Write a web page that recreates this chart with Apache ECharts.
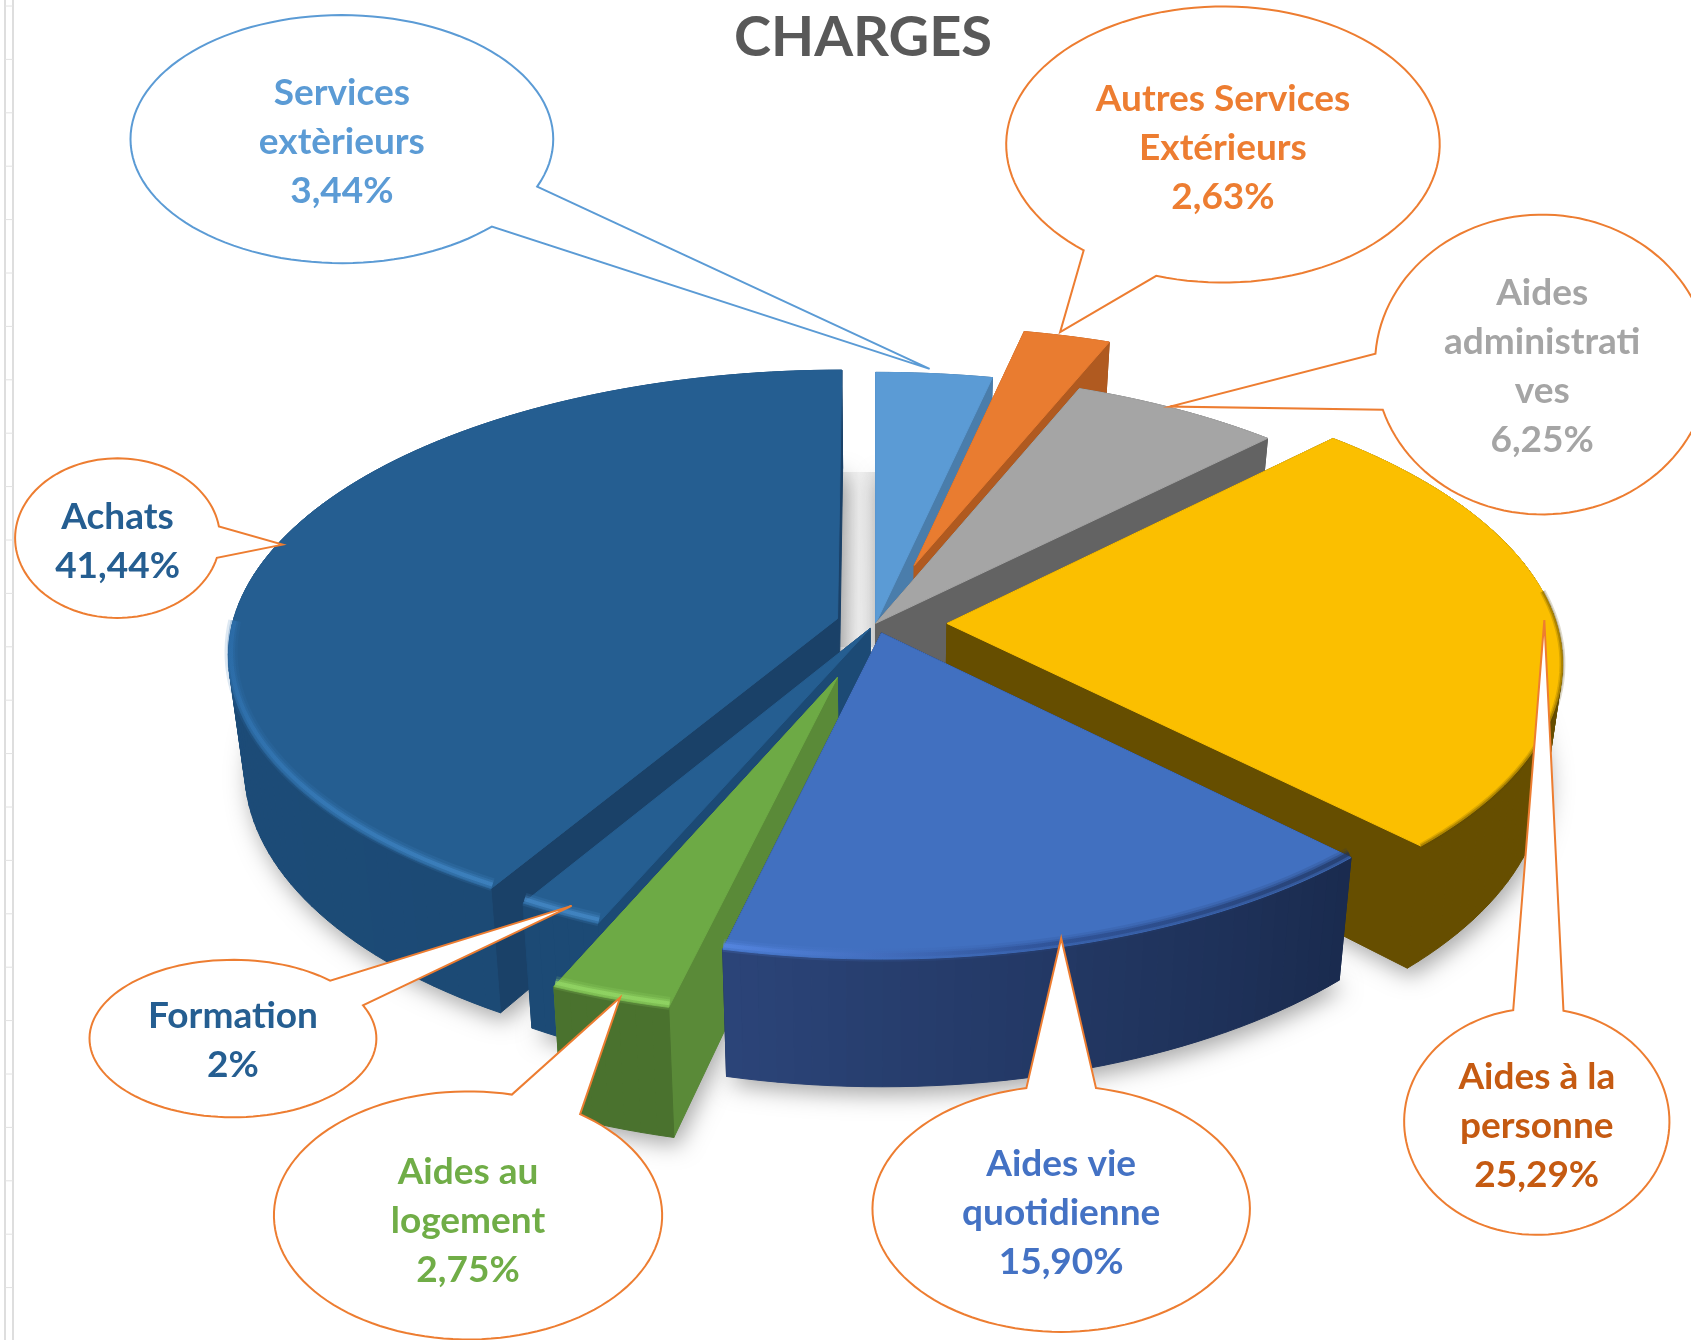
<!DOCTYPE html>
<html><head><meta charset="utf-8">
<style>html,body{margin:0;padding:0;background:#fff}#c{width:1691px;height:1340px}</style>
<script src="https://cdn.jsdelivr.net/npm/echarts@6/dist/echarts.min.js"></script>
</head><body><div id="c"></div>
<script>
// ---------- data ----------
const categories = ['Services extèrieurs','Autres Services Extérieurs','Aides administratives','Aides à la personne','Aides vie quotidienne','Aides au logement','Formation','Achats'];
const values = [3.44,2.63,6.25,25.29,15.90,2.75,2,41.44];
const percentLabels = ['3,44%','2,63%','6,25%','25,29%','15,90%','2,75%','2%','41,44%'];
const labelLines = [['Services','extèrieurs'],['Autres Services','Extérieurs'],['Aides','administrati','ves'],['Aides à la','personne'],['Aides vie','quotidienne'],['Aides au','logement'],['Formation'],['Achats']];
const explode = [0,0.22,0,0.117,0.035,0.197,0.02,0.065];
const radiusScale = [1,1,1,1,1,1,1,0.993];
// ---------- styles ----------
const topColors = ['#5b9bd5','#e97c30','#a5a5a5','#fbbf00','#4170c0','#6daa45','#255e91','#255e91'];
const cutColors = ['#4a7dab','#b05a20','#636363','#664e00','#1a2b4f','#5a8a38','#1c4a75','#1a4168'];
const wallStart = ['#3f6f9c','#a85620','#636363','#664e00','#1a2b4f','#4a722e','#1c4a75','#1c4a75'];
const wallEnd   = ['#3f6f9c','#a85620','#636363','#664e00','#2b4478','#4a722e','#1c4a75','#1d4f7e'];
// bevel colours along the visible front rim (null: no visible bevel)
const rimStops = [null,null,null,['#5f4900','#5f4900'],['#1d3058','#2a4a8c','#5a8cea'],['#9be06c','#9be06c'],['#4a90d0','#4a90d0'],['#458ccc','#3a80c0','#2d70ae']];
const drawOrder = [0,1,2,3,7,6,5,4];
const textColors = ['#5b9bd5','#ed7d31','#a5a5a5','#c55a11','#4472c4','#70ad47','#255e91','#255e91'];
const outlineColors = ['#5b9bd5','#ed7d31','#ed7d31','#ed7d31','#ed7d31','#ed7d31','#ed7d31','#ed7d31'];
const K = 1691/1568;
// callout ellipse cx,cy,rx,ry, tail base a, tail base b, tip, text centre y (in reference preview pixels)
const callouts = [
 [317,129,196,115,[498,173],[456,210],[862,342],132],
 [1134,134,201,128,[1005,232],[1072,256],[983,308],137],
 [1430,338,155,139,[1276,328],[1282,380],[1085,377],340],
 [1425,1040,123,105,[1403,936],[1450,936],[1432,575],1044],
 [984,1121,175,114,[952,1010],[1016,1010],[984,870],1125],
 [434,1127,180,115,[475,1014],[538,1033],[575,925],1132],
 [216,963,133,73,[305,910],[337,932],[530,840],965],
 [109,499,95,74,[204,488],[200,517],[262,505],502]
];
// projection of the pie plane
const cx=812*K, cy=578*K, S=565*K, T=262*K, D=103*K, persp=0.1258, CONV=0.975;
function proj(X,Y,low){
  const w=1-persp*Y; let sx=S*X/w, sy=cy+T*Y/w;
  if(low){sy+=D/w; sx*=CONV;}
  return [cx+sx,sy];
}
const total = values.reduce((a,b)=>a+b,0);
function sliceGeom(i){
  let before=0; for(let j=0;j<i;j++) before+=values[j];
  const a0=before/total*2*Math.PI, a1=(before+values[i])/total*2*Math.PI, mid=(a0+a1)/2;
  const ox=Math.sin(mid)*explode[i], oy=-Math.cos(mid)*explode[i], r=radiusScale[i];
  const n=Math.max(2,Math.ceil((a1-a0)/(Math.PI/120)));
  const arc=[]; for(let k=0;k<=n;k++){const a=a0+(a1-a0)*k/n; arc.push([ox+r*Math.sin(a),oy-r*Math.cos(a)]);}
  return {ox,oy,arc};
}
function hex(c){return [parseInt(c.slice(1,3),16),parseInt(c.slice(3,5),16),parseInt(c.slice(5,7),16)];}
function mix(a,b,t){const A=hex(a),B=hex(b);return 'rgb('+A.map((v,i)=>Math.round(v+(B[i]-v)*t)).join(',')+')';}
function rgba(c,o){return 'rgba('+hex(c).join(',')+','+o+')';}

function renderShadow(params,api){
  const i=api.value(1), g=sliceGeom(i);
  const pts=[proj(g.ox,g.oy,true)].concat(g.arc.map(p=>proj(p[0],p[1],true)));
  return {type:'polygon',shape:{points:pts},style:{fill:'#888',shadowBlur:22,shadowColor:'rgba(0,0,0,0.34)',shadowOffsetX:4,shadowOffsetY:8}};
}
function renderSlice(params,api){
  const i=api.value(1), g=sliceGeom(i), faces=[];
  const A=[g.ox,g.oy], first=g.arc[0], last=g.arc[g.arc.length-1];
  [first,last].forEach(p=>{
    faces.push({d:(p[1]+A[1])/2,pts:[proj(A[0],A[1]),proj(p[0],p[1]),proj(p[0],p[1],true),proj(A[0],A[1],true)],c:cutColors[i]});
  });
  for(let k=0;k<g.arc.length-1;k++){
    const p=g.arc[k],q=g.arc[k+1];
    faces.push({d:(p[1]+q[1])/2,pts:[proj(p[0],p[1]),proj(q[0],q[1]),proj(q[0],q[1],true),proj(p[0],p[1],true)],c:mix(wallStart[i],wallEnd[i],k/(g.arc.length-2||1))});
  }
  faces.sort((x,y)=>x.d-y.d);
  const children=faces.map(f=>({type:'polygon',shape:{points:f.pts},style:{fill:f.c,stroke:f.c,lineWidth:1}}));
  children.push({type:'polygon',shape:{points:[proj(A[0],A[1])].concat(g.arc.map(p=>proj(p[0],p[1])))},style:{fill:topColors[i],stroke:topColors[i],lineWidth:1}});
  const stops=rimStops[i];
  if(stops){
    const dark=(i===3);
    const front=g.arc.filter(p=>p[1]>(dark?-0.12:-0.02)).map(p=>{
      const o=proj(p[0],p[1]);
      return dark?o:[o[0]+(cx-o[0])*0.004,o[1]-4];
    });
    const s=front[0], e=front[front.length-1];
    const layers=dark?[[6,0.2],[3,0.35]]:[[13,0.16],[8,0.28],[4,0.55]];
    layers.forEach(L=>{
      const grad=new echarts.graphic.LinearGradient(s[0],s[1],e[0],e[1],stops.map((c,n)=>({offset:n/(stops.length-1),color:rgba(c,L[1])})),true);
      children.push({type:'polyline',shape:{points:front},style:{fill:null,stroke:grad,lineWidth:L[0],lineCap:'butt',lineJoin:'round'}});
    });
  }
  return {type:'group',children};
}
const ordered=drawOrder.map(i=>({name:categories[i],value:[values[i],i]}));

function calloutElements(){
  const els=[];
  callouts.forEach((c,i)=>{
    const [ex,ey,rx,ry,ba,bb,tip,ty]=c;
    let a=Math.atan2((ba[1]-ey)/ry,(ba[0]-ex)/rx), b=Math.atan2((bb[1]-ey)/ry,(bb[0]-ex)/rx);
    let span=((b-a)%(2*Math.PI)+2*Math.PI)%(2*Math.PI);
    if(span<Math.PI){const t=a;a=b;b=t;span=2*Math.PI-span;}
    const pts=[]; for(let k=0;k<=120;k++){const t=a+span*k/120; pts.push([(ex+rx*Math.cos(t))*K,(ey+ry*Math.sin(t))*K]);}
    pts.push([tip[0]*K,tip[1]*K]);
    els.push({type:'polygon',z:20,silent:true,shape:{points:pts},style:{fill:'#fff',stroke:outlineColors[i],lineWidth:2,lineJoin:'miter'}});
    els.push({type:'text',z:21,silent:true,style:{text:labelLines[i].concat([percentLabels[i]]).join('\n'),x:ex*K,y:ty*K,align:'center',verticalAlign:'middle',font:'bold 37px Lato, Carlito, sans-serif',lineHeight:49,fill:textColors[i]}});
  });
  // faint spreadsheet gutter at the left edge
  [5,13].forEach(x=>els.push({type:'line',z:1,silent:true,shape:{x1:x,y1:0,x2:x,y2:1340},style:{stroke:'#dedede',lineWidth:2}}));
  for(let y=6;y<1340;y+=53.4) els.push({type:'line',z:1,silent:true,shape:{x1:5,y1:y,x2:13,y2:y},style:{stroke:'#e2e2e2',lineWidth:1}});
  // pale shadow seen through the gap between Achats and Services
  els.push({type:'rect',z:1,silent:true,shape:{x:840,y:472,width:38,height:175},style:{fill:new echarts.graphic.LinearGradient(0,0,1,0,[{offset:0,color:'#e6e6e6'},{offset:0.5,color:'#f3f3f3'},{offset:1,color:'#e2e2e2'}])}});
  return els;
}
const chart=echarts.init(document.getElementById('c'),null,{renderer:'canvas'});
chart.setOption({
  animation:false,backgroundColor:'#fff',
  title:{text:'CHARGES',left:858,top:5,textAlign:'center',textStyle:{fontFamily:'Lato, Carlito, sans-serif',fontWeight:'bold',fontSize:56,color:'#595959'}},
  graphic:{elements:calloutElements()},
  series:[
    {type:'custom',coordinateSystem:'none',silent:true,z:2,clip:false,data:ordered,renderItem:renderShadow},
    {type:'custom',coordinateSystem:'none',silent:true,z:3,clip:false,data:ordered,renderItem:renderSlice}
  ]
});
</script></body></html>
